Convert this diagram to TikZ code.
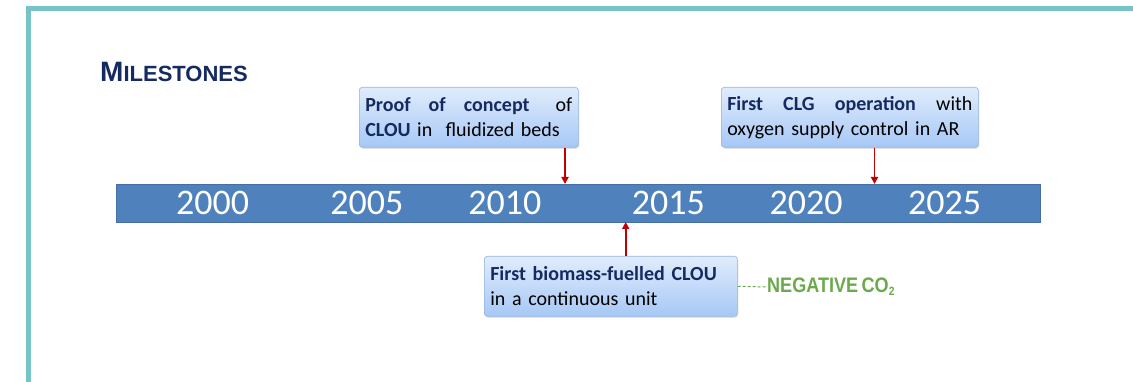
\documentclass[tikz,border=0pt]{standalone}
\usepackage{fontspec}
\setmainfont{Carlito}
\newfontfamily\headfont{Liberation Sans}
\newfontfamily\narrowfont{Liberation Sans}[FakeStretch=0.86]
\usetikzlibrary{arrows.meta,shadows}

\definecolor{frameteal}{RGB}{118,196,200}
\definecolor{barblue}{RGB}{79,129,189}
\definecolor{barline}{RGB}{70,110,165}
\definecolor{navy}{RGB}{22,42,98}
\definecolor{boxtop}{RGB}{224,236,252}
\definecolor{boxbottom}{RGB}{166,200,246}
\definecolor{boxline}{RGB}{150,180,222}
\definecolor{arrowred}{RGB}{192,0,0}
\definecolor{leafgreen}{RGB}{106,170,76}

\tikzset{
  event/.style={draw=boxline, line width=0.6pt, rounded corners=3pt,
    top color=boxtop, bottom color=boxbottom, anchor=north west,
    inner xsep=6pt, inner ysep=0pt, minimum height=60pt, align=left,
    font=\fontsize{20}{25}\selectfont,
    drop shadow={opacity=0.22, shadow xshift=1pt, shadow yshift=-1.5pt}},
  year/.style={text=white, anchor=base, font=\fontsize{36}{36}\selectfont},
  pointer/.style={draw=arrowred, line width=1.9pt,
    -{Triangle[length=7pt,width=7pt]}},
}
\newcommand{\hl}[1]{\textbf{\textcolor{navy}{#1}}}

\begin{document}
\begin{tikzpicture}[x=1pt,y=-1pt]
\useasboundingbox (0,0) rectangle (1133,382);

% open frame along the top and left edges
\draw[frameteal, line width=5pt] (28.5,382) |- (1133,8.5);

% heading
\node[anchor=base west, inner sep=0pt, text=navy] (title) at (100,81.7)
  {\headfont\bfseries\fontsize{28}{28}\selectfont M\fontsize{22}{22}\selectfont ILESTONES};

% time line
\node[draw=barline, fill=barblue, line width=0.8pt, anchor=north west,
  minimum width=924pt, minimum height=38pt, inner sep=0pt] (bar) at (115.5,184) {};
\node[year] (y2000) at (212.6,215) {2000};
\node[year] (y2005) at (366.9,215) {2005};
\node[year] (y2010) at (504.9,215) {2010};
\node[year] (y2015) at (668.4,215) {2015};
\node[year] (y2020) at (806,215) {2020};
\node[year] (y2025) at (944.5,215) {2025};

% milestones
\node[event, text width=207pt] (m1) at (359,87)
  {\hl{Proof}\hfill\hl{of}\hfill\hl{concept}\hfill\hspace{8pt}of\\
   \hl{CLOU} in\ \ fluidized beds};
\node[event, text width=245pt] (m2) at (721,87)
  {\hl{First}\hfill\hl{CLG}\hfill\hl{operation}\hfill with\\
   oxygen supply control in AR};
\node[event, text width=241pt] (m3) at (484,256)
  {\hl{First biomass-fuelled CLOU}\\
   in a continuous unit};

% where each milestone meets the time line
\coordinate (t1) at (565,184);
\coordinate (t2) at (874.5,184);
\coordinate (t3) at (625.7,222);

\draw[pointer] (m1.south -| t1) -- (t1);
\draw[pointer] (m2.south -| t2) -- (t2);
\draw[pointer] (m3.north -| t3) -- (t3);

% negative emissions note
\node[anchor=west, inner sep=0pt, text=leafgreen] (neg) at (767,287)
  {\narrowfont\bfseries\fontsize{21}{21}\selectfont NEGATIVE\,CO\textsubscript{\fontsize{12}{12}\selectfont 2}};
\draw[leafgreen, line width=1pt, dash pattern=on 3pt off 2pt] (m3.east) -- (neg.west);
\end{tikzpicture}
\end{document}
